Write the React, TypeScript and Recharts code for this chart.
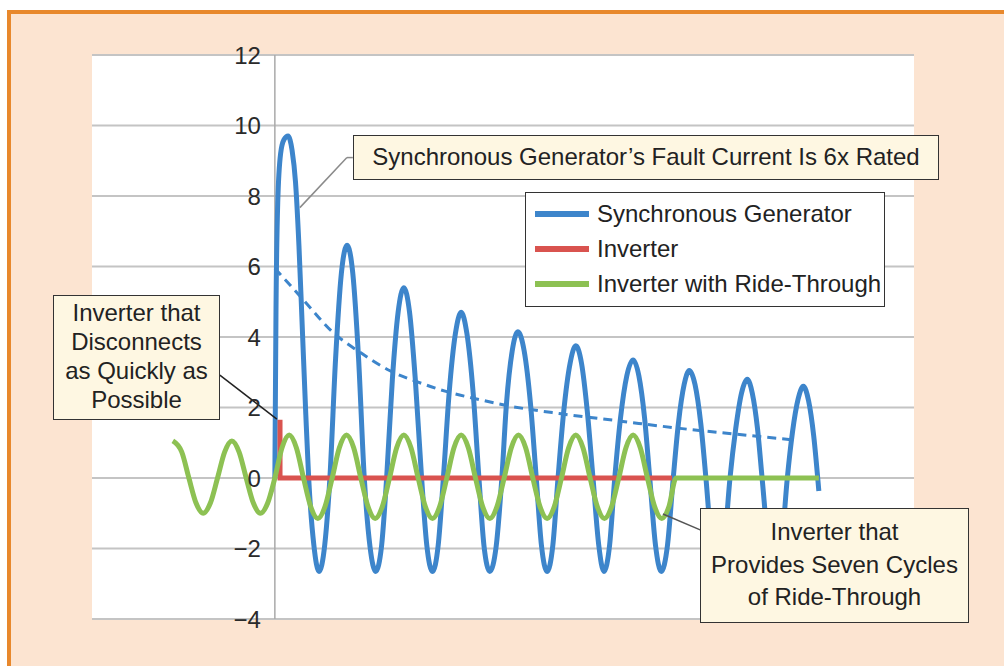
import { LineChart, Line, XAxis, YAxis, Legend, ReferenceLine, ReferenceArea, ReferenceDot } from 'recharts';

// x in cycles after the fault (fault at 0), y in per-unit current
const syncGen: [number, number][] = [
  [0.0, 0.0], [0.02, 4.8], [0.05, 7.8], [0.1, 9.2], [0.16, 9.6], [0.23, 9.7], [0.3, 9.3], [0.36, 8.4], [0.42, 6.6], [0.48, 4.2], [0.54, 1.8], [0.59, 0.0],
  [0.68, -1.9], [0.77, -2.65], [0.87, -1.9], [0.96, 0.0],
  [1.06, 3.4], [1.16, 5.8], [1.26, 6.6], [1.36, 5.8], [1.46, 3.4], [1.56, 0.0],
  [1.66, -1.95], [1.76, -2.65], [1.86, -1.95], [1.95, 0.0],
  [2.05, 2.8], [2.15, 4.7], [2.25, 5.4], [2.35, 4.7], [2.45, 2.8], [2.56, 0.0],
  [2.65, -1.9], [2.75, -2.65], [2.85, -1.9], [2.94, 0.0],
  [3.04, 2.4], [3.15, 4.1], [3.25, 4.7], [3.35, 4.1], [3.46, 2.4], [3.56, 0.0],
  [3.65, -1.95], [3.75, -2.65], [3.86, -1.95], [3.96, 0.0],
  [4.04, 2.1], [4.14, 3.6], [4.24, 4.15], [4.35, 3.6], [4.46, 2.1], [4.56, 0.0],
  [4.65, -1.9], [4.75, -2.65], [4.85, -1.9], [4.94, 0.0],
  [5.04, 1.9], [5.15, 3.25], [5.25, 3.75], [5.35, 3.25], [5.45, 1.9], [5.55, 0.0],
  [5.65, -1.9], [5.74, -2.65], [5.84, -1.9], [5.93, 0.0],
  [6.03, 1.7], [6.14, 2.9], [6.25, 3.35], [6.35, 2.9], [6.45, 1.7], [6.54, 0.0],
  [6.64, -1.9], [6.74, -2.65], [6.85, -1.9], [6.95, 0.0],
  [7.04, 1.55], [7.14, 2.65], [7.23, 3.05], [7.33, 2.65], [7.43, 1.55], [7.52, 0.0],
  [7.62, -1.9], [7.73, -2.65], [7.84, -1.9], [7.94, 0.0],
  [8.04, 1.4], [8.14, 2.4], [8.24, 2.8], [8.33, 2.4], [8.42, 1.4], [8.5, 0.0],
  [8.61, -1.9], [8.73, -2.65], [8.84, -1.9], [8.94, 0.0],
  [9.03, 1.3], [9.13, 2.25], [9.22, 2.6], [9.31, 2.2], [9.4, 1.2], [9.49, -0.37],
];

// dashed decay envelope of the generator current
const envelope: [number, number][] = [
  [0, 5.95], [0.5, 5.05], [1.0, 4.15], [1.5, 3.55], [2.0, 3.05], [2.5, 2.72], [3.0, 2.45],
  [3.5, 2.25], [4.0, 2.07], [5.0, 1.82], [6.0, 1.62], [7.0, 1.42], [8.0, 1.25], [9.05, 1.08],
];

const inverter: [number, number][] = [
  [0.09, 1.65], [0.09, 0.0], [6.93, 0.0],
];

const rideThrough: [number, number][] = [
  [-1.78, 1.05], [-1.625, 0.74], [-1.5, 0.0], [-1.375, -0.71], [-1.25, -1.0], [-1.125, -0.71],
  [-1.0, 0.0], [-0.875, 0.74], [-0.75, 1.05], [-0.625, 0.74], [-0.5, 0.0], [-0.375, -0.71],
  [-0.25, -1.0], [-0.125, -0.71], [0.0, 0.0],
  [0.125, 0.86], [0.25, 1.22], [0.375, 0.86], [0.5, 0.0], [0.625, -0.81], [0.75, -1.15], [0.875, -0.81], [1.0, 0.0],
  [1.125, 0.86], [1.25, 1.22], [1.375, 0.86], [1.5, 0.0], [1.625, -0.81], [1.75, -1.15], [1.875, -0.81], [2.0, 0.0],
  [2.125, 0.86], [2.25, 1.22], [2.375, 0.86], [2.5, 0.0], [2.625, -0.81], [2.75, -1.15], [2.875, -0.81], [3.0, 0.0],
  [3.125, 0.86], [3.25, 1.22], [3.375, 0.86], [3.5, 0.0], [3.625, -0.81], [3.75, -1.15], [3.875, -0.81], [4.0, 0.0],
  [4.125, 0.86], [4.25, 1.22], [4.375, 0.86], [4.5, 0.0], [4.625, -0.81], [4.75, -1.15], [4.875, -0.81], [5.0, 0.0],
  [5.125, 0.86], [5.25, 1.22], [5.375, 0.86], [5.5, 0.0], [5.625, -0.81], [5.75, -1.15], [5.875, -0.81], [6.0, 0.0],
  [6.125, 0.86], [6.25, 1.22], [6.375, 0.86], [6.5, 0.0], [6.625, -0.81], [6.75, -1.15], [6.875, -0.81], [7.0, 0.0],
  [9.49, 0.0],
];

const seriesNames = ['Synchronous Generator', 'Inverter', 'Inverter with Ride-Through'];
const yTicks = [-4, -2, 0, 2, 4, 6, 8, 10, 12];
const xDomain: [number, number] = [-3.19, 11.15];
const yDomain: [number, number] = [-4, 12];

// callout leader lines, in data coordinates
const leaderFault = [
  [{ x: 1.36, y: 9.09 }, { x: 1.257, y: 9.09 }],
  [{ x: 1.257, y: 9.09 }, { x: 0.436, y: 7.67 }],
];
const leaderDisconnect = [{ x: -0.96, y: 2.92 }, { x: 0.035, y: 1.67 }];
const leaderRide = [{ x: 7.42, y: -1.47 }, { x: 6.77, y: -1.02 }];

const BLUE = '#3d85cb';
const RED = '#d9534f';
const GREEN = '#8dc153';
const FONT = '"Liberation Sans", Arial, Helvetica, sans-serif';

const pts = (arr: [number, number][]) => arr.map(([x, y]) => ({ x, y }));
const fmt = (v: number) => (v < 0 ? `\u2212${Math.abs(v)}` : `${v}`);

const LegendBox = ({ payload }: any) => {
  const items = (payload || [])
    .filter((p: any) => p.type !== 'none' && seriesNames.includes(p.value))
    .sort((a: any, b: any) => seriesNames.indexOf(a.value) - seriesNames.indexOf(b.value));
  return (
    <div
      style={{
        width: 360,
        height: 115,
        boxSizing: 'border-box',
        border: '1.5px solid #333',
        background: '#fff',
        padding: '3px 0 0 9px',
        fontFamily: FONT,
      }}
    >
      {items.map((p: any) => (
        <div key={p.value} style={{ display: 'flex', alignItems: 'center', height: 35, whiteSpace: 'nowrap' }}>
          <span style={{ width: 54, height: 6, flexShrink: 0, background: p.color, marginRight: 8 }} />
          <span style={{ fontSize: 24, color: '#222' }}>{p.value}</span>
        </div>
      ))}
    </div>
  );
};

const boxStyle: React.CSSProperties = {
  position: 'absolute',
  boxSizing: 'border-box',
  background: '#fef7e2',
  border: '1.5px solid #333',
  fontFamily: FONT,
  fontSize: 24,
  color: '#222',
  textAlign: 'center',
};

export default function App() {
  return (
    <div style={{ position: 'relative', width: 1004, height: 666, background: '#fff', overflow: 'hidden' }}>
      <style>{'body{margin:0}'}</style>
      <div
        style={{
          position: 'absolute',
          left: 7,
          top: 10,
          right: 0,
          bottom: 0,
          background: '#fce4d1',
          borderTop: '4px solid #e8882c',
          borderLeft: '4px solid #e8882c',
        }}
      />
      <div style={{ position: 'absolute', left: 0, top: 0 }}>
        <LineChart width={1004} height={666} margin={{ top: 55, right: 90, bottom: 47, left: 92 }}>
          <XAxis type="number" dataKey="x" domain={xDomain} hide allowDataOverflow />
          <YAxis type="number" domain={yDomain} ticks={yTicks} hide allowDataOverflow />
          <ReferenceArea x1={xDomain[0]} x2={xDomain[1]} y1={yDomain[0]} y2={yDomain[1]} fill="#fff" fillOpacity={1} stroke="none" />
          {yTicks.map((v) => (
            <ReferenceLine key={`g${v}`} y={v} stroke="#c4c4c4" strokeWidth={2} />
          ))}
          <ReferenceLine x={0} stroke="#a9a9a9" strokeWidth={1.5} />
          {yTicks.map((v) => (
            <ReferenceDot
              key={`t${v}`}
              x={0}
              y={v}
              r={1}
              fill="none"
              stroke="none"
              label={{ value: fmt(v), position: 'left', offset: 13, fill: '#2a2a2a', fontSize: 24, fontFamily: FONT }}
            />
          ))}
          <Line
            data={pts(syncGen)}
            dataKey="y"
            name={seriesNames[0]}
            type="monotone"
            stroke={BLUE}
            strokeWidth={5}
            dot={false}
            activeDot={false}
            isAnimationActive={false}
          />
          <Line
            data={pts(envelope)}
            dataKey="y"
            name="Envelope"
            type="monotone"
            stroke={BLUE}
            strokeWidth={3}
            strokeDasharray="9 6"
            dot={false}
            activeDot={false}
            legendType="none"
            isAnimationActive={false}
          />
          <Line
            data={pts(inverter)}
            dataKey="y"
            name={seriesNames[1]}
            type="linear"
            stroke={RED}
            strokeWidth={5}
            dot={false}
            activeDot={false}
            isAnimationActive={false}
          />
          <Line
            data={pts(rideThrough)}
            dataKey="y"
            name={seriesNames[2]}
            type="monotone"
            stroke={GREEN}
            strokeWidth={5}
            dot={false}
            activeDot={false}
            isAnimationActive={false}
          />
          {leaderFault.map((seg, i) => (
            <ReferenceLine key={`lf${i}`} segment={seg} stroke="#8a8a8a" strokeWidth={1.5} ifOverflow="visible" />
          ))}
          <ReferenceLine segment={leaderDisconnect} stroke="#222" strokeWidth={1.5} ifOverflow="visible" />
          <ReferenceLine segment={leaderRide} stroke="#555" strokeWidth={1.5} ifOverflow="visible" />
          <Legend
            layout="vertical"
            align="center"
            verticalAlign="middle"
            wrapperStyle={{ left: 525, top: 192, width: 360, height: 115 }}
            content={<LegendBox />}
          />
        </LineChart>
      </div>
      <div style={{ ...boxStyle, left: 353, top: 135, width: 586, height: 45, lineHeight: '42px' }}>
        Synchronous Generator’s Fault Current Is 6x Rated
      </div>
      <div style={{ ...boxStyle, left: 53, top: 295, width: 167, height: 125, lineHeight: '29px', paddingTop: 2 }}>
        Inverter that
        <br />
        Disconnects
        <br />
        as Quickly as
        <br />
        Possible
      </div>
      <div style={{ ...boxStyle, left: 700, top: 508, width: 269, height: 115, lineHeight: '32.5px', paddingTop: 7 }}>
        Inverter that
        <br />
        Provides Seven Cycles
        <br />
        of Ride-Through
      </div>
    </div>
  );
}
